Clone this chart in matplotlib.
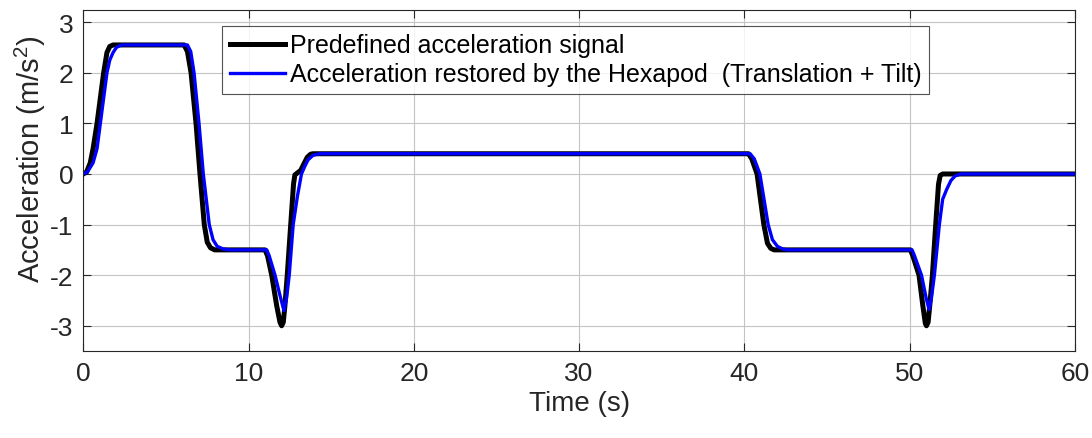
import matplotlib
matplotlib.use('Agg')
import matplotlib.pyplot as plt

plt.rcParams['font.family'] = ['Liberation Sans', 'DejaVu Sans']
plt.rcParams['mathtext.default'] = 'regular'
plt.rcParams['axes.unicode_minus'] = False

# Predefined acceleration signal (black)
t_ref = [0.0, 0.2, 0.42, 0.59, 0.83, 1.03, 1.23, 1.43, 1.6, 1.8,
         6.1, 6.3, 6.52, 6.82, 7.06, 7.32, 7.5, 7.7, 7.95,
         11.0, 11.15, 11.4, 11.7, 11.9, 12.0, 12.1, 12.2, 12.34, 12.55, 12.72,
         12.8, 12.95, 13.15, 13.35, 13.55, 13.75, 13.9,
         40.25, 40.45, 40.77, 41.18, 41.4, 41.6, 41.8,
         50.05, 50.2, 50.57, 50.8, 50.95, 51.02, 51.12, 51.22, 51.38, 51.58,
         51.75, 51.85, 52.0, 60.0]
a_ref = [0.0, 0.04, 0.22, 0.5, 1.0, 1.5, 2.0, 2.4, 2.52, 2.55,
         2.55, 2.42, 2.0, 1.0, 0.0, -1.0, -1.35, -1.46, -1.5,
         -1.5, -1.62, -2.0, -2.6, -2.93, -3.0, -2.93, -2.6, -2.0, -1.0, -0.2,
         -0.02, 0.02, 0.07, 0.2, 0.33, 0.39, 0.4,
         0.4, 0.3, 0.0, -1.0, -1.37, -1.47, -1.5,
         -1.5, -1.62, -2.0, -2.6, -2.95, -3.0, -2.93, -2.6, -2.0, -1.0,
         -0.2, -0.03, 0.0, 0.0]

# Acceleration restored by the Hexapod (blue)
t_hex = [0.0, 0.25, 0.59, 0.83, 1.03, 1.23, 1.43, 1.6, 1.8, 2.0, 2.3,
         6.3, 6.5, 6.7, 7.0, 7.26, 7.62, 7.85, 8.1, 8.45, 8.8,
         11.1, 11.25, 11.6, 11.9, 12.14, 12.3, 12.46, 12.7, 12.95, 13.2,
         13.4, 13.6, 13.9, 14.3,
         40.35, 40.6, 40.94, 41.44, 41.7, 42.0, 42.3, 42.6,
         50.15, 50.3, 50.72, 51.0, 51.18, 51.32, 51.5, 51.8, 52.0, 52.25,
         52.5, 52.75, 53.1, 60.0]
a_hex = [0.0, 0.04, 0.22, 0.5, 1.0, 1.5, 2.0, 2.25, 2.4, 2.5, 2.55,
         2.55, 2.42, 2.0, 1.0, 0.0, -1.0, -1.3, -1.43, -1.48, -1.5,
         -1.5, -1.62, -2.0, -2.4, -2.7, -2.45, -2.0, -1.0, -0.45, 0.0,
         0.15, 0.28, 0.37, 0.4,
         0.4, 0.3, 0.0, -1.0, -1.3, -1.43, -1.48, -1.5,
         -1.5, -1.62, -2.0, -2.45, -2.68, -2.45, -2.0, -1.0, -0.5, -0.3,
         -0.13, -0.04, 0.0, 0.0]

x_ticks = [0, 10, 20, 30, 40, 50, 60]
y_ticks = [-3, -2, -1, 0, 1, 2, 3]

fig = plt.figure(figsize=(10.92, 4.39), dpi=100)
ax = fig.add_axes([0.0763, 0.198, 0.908, 0.778])

ax.plot(t_ref, a_ref, color='black', linewidth=3.6,
        label='Predefined acceleration signal')
ax.plot(t_hex, a_hex, color='#0000ff', linewidth=2.4,
        label='Acceleration restored by the Hexapod  (Translation + Tilt)')

ax.set_xlim(0, 60)
ax.set_ylim(-3.5, 3.25)
ax.set_xticks(x_ticks)
ax.set_yticks(y_ticks)
ax.grid(True, color='#c4c4c4', linewidth=0.8)
ax.tick_params(direction='in', length=6, width=0.8, top=True, right=True,
               labelsize=19, colors='#262626', pad=7)
for s in ax.spines.values():
    s.set_color('#262626')
    s.set_linewidth(0.8)

ax.set_xlabel('Time (s)', fontsize=20, color='#262626', labelpad=4)
ax.set_ylabel('Acceleration (m/s$^2$)', fontsize=21, color='#262626')
ax.yaxis.set_label_coords(-0.036, 0.565)

leg = ax.legend(loc='upper left', bbox_to_anchor=(0.14, 0.952), borderaxespad=0,
                fontsize=18, frameon=True, fancybox=False, handlelength=2.2,
                handletextpad=0.2, borderpad=0.3, labelspacing=0.2)
leg.get_frame().set_edgecolor('#262626')
leg.get_frame().set_linewidth(0.8)

fig.savefig('out.png', dpi=100)
